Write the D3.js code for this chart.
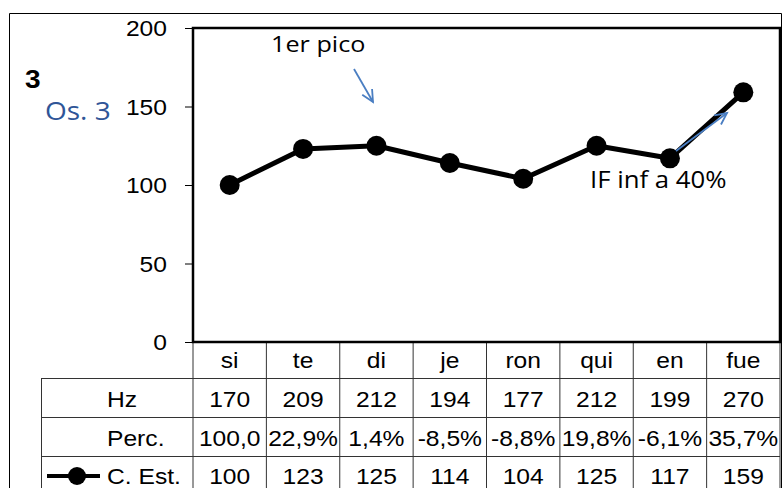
<!DOCTYPE html>
<html><head><meta charset="utf-8">
<script src="https://cdn.jsdelivr.net/npm/d3@7"></script>
<style>body{margin:0;background:#fff}svg{display:block}</style>
</head><body>
<svg id="c" width="782" height="488"></svg>
<script>
const categories = ["si","te","di","je","ron","qui","en","fue"];
const hz = ["170","209","212","194","177","212","199","270"];
const perc = ["100,0","22,9%","1,4%","-8,5%","-8,8%","19,8%","-6,1%","35,7%"];
const cEst = [100,123,125,114,104,125,117,159];
const yTicks = [0,50,100,150,200];

const svg = d3.select("#c");
const L = 193, R = 780, T = 28, B = 342;
const SX = 1.12;
const x = d3.scaleBand().domain(categories).range([L, R]);
const y = d3.scaleLinear().domain([0,200]).range([B, T]);
const font = "'Liberation Sans', Arial, sans-serif";
const cal = "'Open Sans', 'Noto Sans', sans-serif";

function txt(g, tx, ty, str, o){
  o = o || {};
  return g.append("text")
    .attr("transform",`translate(${tx},${ty}) scale(${SX},1)`)
    .attr("text-anchor",o.anchor||"start")
    .attr("font-family",o.family||font)
    .attr("font-size",o.size||22)
    .attr("font-weight",o.weight||"normal")
    .attr("fill",o.fill||"#000")
    .text(str);
}

// outer border
svg.append("path").attr("d","M9.5,488 V13.5 H781.5 V488").attr("fill","none").attr("stroke","#000").attr("stroke-width",1);

// y axis
const ya = svg.append("g").attr("transform",`translate(${L},0)`)
  .call(d3.axisLeft(y).tickValues(yTicks).tickSize(8).tickPadding(18));
ya.select(".domain").remove();
ya.selectAll("line").attr("stroke","#000").attr("stroke-width",1);
ya.selectAll("text").attr("font-family",font).attr("font-size",22).attr("fill","#000")
  .attr("x",-26/SX).attr("dy","0.36em").attr("transform",`scale(${SX},1)`);

// table
const tbl = svg.append("g");
[378,417,456].forEach(v=>tbl.append("line").attr("x1",41).attr("x2",R).attr("y1",v+0.5).attr("y2",v+0.5).attr("stroke","#333").attr("stroke-width",1));
categories.forEach((c,i)=>{
  if(i>0) tbl.append("line").attr("x1",x(c)).attr("x2",x(c)).attr("y1",B).attr("y2",488).attr("stroke","#333").attr("stroke-width",1);
});
tbl.append("line").attr("x1",L).attr("x2",L).attr("y1",B).attr("y2",488).attr("stroke","#333");
tbl.append("line").attr("x1",R).attr("x2",R).attr("y1",B).attr("y2",488).attr("stroke","#333");
tbl.append("line").attr("x1",41.5).attr("x2",41.5).attr("y1",378).attr("y2",488).attr("stroke","#333");

const cx = c => x(c) + x.bandwidth()/2;
const rowData = [[categories,368],[hz,407],[perc,446],[cEst.map(String),484]];
rowData.forEach(([arr,by])=>{
  arr.forEach((d,i)=>txt(tbl, cx(categories[i]), by, d, {anchor:"middle"}));
});
[["Hz",407],["Perc.",446],["C. Est.",484]].forEach(([t,by])=>txt(tbl,107,by,t));
// legend key
tbl.append("line").attr("x1",47).attr("x2",100).attr("y1",476).attr("y2",476).attr("stroke","#000").attr("stroke-width",4);
tbl.append("circle").attr("cx",77).attr("cy",476).attr("r",9).attr("fill","#000");

// plot area border
svg.append("rect").attr("x",L).attr("y",T).attr("width",R-L).attr("height",B-T)
  .attr("fill","none").attr("stroke","#000").attr("stroke-width",2.5);

// line series
const line = d3.line().x((d,i)=>cx(categories[i])).y(d=>y(d));
svg.append("path").datum(cEst).attr("d",line).attr("fill","none").attr("stroke","#000").attr("stroke-width",5).attr("stroke-linejoin","round");
svg.selectAll(".pt").data(cEst).enter().append("circle")
  .attr("cx",(d,i)=>cx(categories[i])).attr("cy",d=>y(d)).attr("r",10).attr("fill","#000");

// annotations
txt(svg,25,88,"3",{weight:"bold",size:25});
txt(svg,45,120,"Os. 3",{family:cal,size:25,fill:"#2F5597"});
txt(svg,271,52,"1er pico",{family:cal,size:22.5});
txt(svg,590,188,"IF inf a 40%",{family:cal,size:23});

function arrow(x1,y1,x2,y2){
  const a = Math.atan2(y2-y1,x2-x1), h=13, s=0.45;
  const g = svg.append("g").attr("stroke","#4A7EC2").attr("stroke-width",1.8).attr("fill","none");
  g.append("line").attr("x1",x1).attr("y1",y1).attr("x2",x2).attr("y2",y2);
  g.append("path").attr("d",`M${x2-h*Math.cos(a-s)},${y2-h*Math.sin(a-s)} L${x2},${y2} L${x2-h*Math.cos(a+s)},${y2-h*Math.sin(a+s)}`);
}
arrow(354,69,373,102);
arrow(676,151,727,113);
</script>
</body></html>
